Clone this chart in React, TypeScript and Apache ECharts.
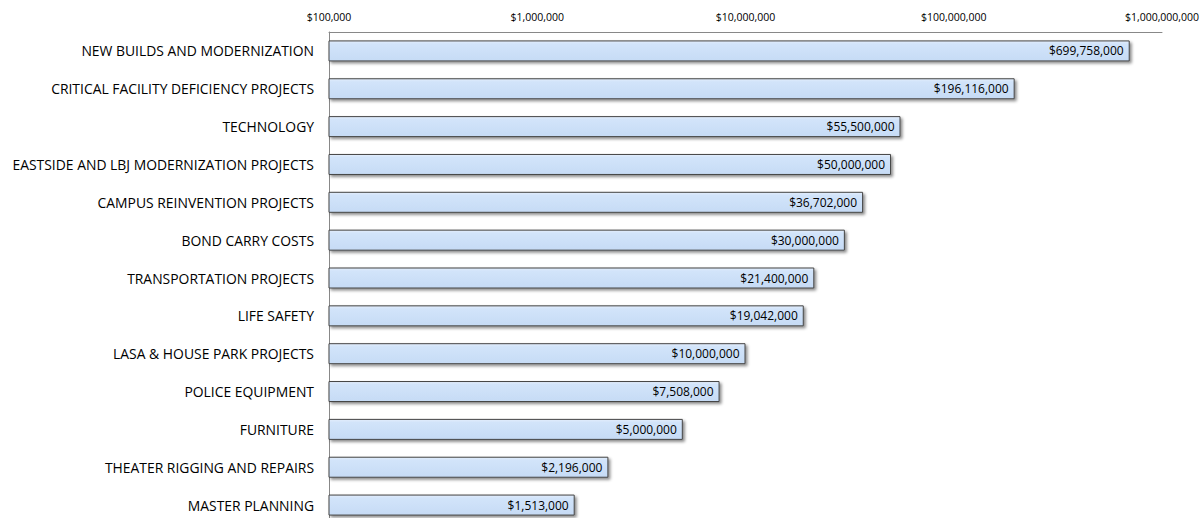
import React, { useEffect, useRef } from "react";
import * as echarts from "echarts";

const categories = [
  "NEW BUILDS AND MODERNIZATION",
  "CRITICAL FACILITY DEFICIENCY PROJECTS",
  "TECHNOLOGY",
  "EASTSIDE AND LBJ MODERNIZATION PROJECTS",
  "CAMPUS REINVENTION PROJECTS",
  "BOND CARRY COSTS",
  "TRANSPORTATION PROJECTS",
  "LIFE SAFETY",
  "LASA & HOUSE PARK PROJECTS",
  "POLICE EQUIPMENT",
  "FURNITURE",
  "THEATER RIGGING AND REPAIRS",
  "MASTER PLANNING",
];

const values = [
  699758000, 196116000, 55500000, 50000000, 36702000, 30000000, 21400000,
  19042000, 10000000, 7508000, 5000000, 2196000, 1513000,
];

const axisMin = 100000;
const axisMax = 1000000000;

const fmt = (v: number) => "$" + Math.round(v).toLocaleString("en-US");

export default function App() {
  const ref = useRef<HTMLDivElement>(null);
  useEffect(() => {
    if (!ref.current) return;
    const chart = echarts.init(ref.current, null, { renderer: "svg" });
    chart.setOption({
      animation: false,
      backgroundColor: "#ffffff",
      grid: { left: 329, right: 42, top: 32, height: 492, containLabel: false },
      xAxis: {
        type: "log",
        logBase: 10,
        min: axisMin,
        max: axisMax,
        position: "top",
        axisLine: { show: true, lineStyle: { color: "#888888", width: 1 } },
        axisTick: { show: false },
        splitLine: { show: false },
        axisLabel: {
          formatter: (v: number) => fmt(v),
          fontSize: 10.5,
          color: "#000000",
          fontFamily: "Open Sans",
          margin: 10,
        },
      },
      yAxis: {
        type: "category",
        data: categories,
        inverse: true,
        axisLine: { show: true, lineStyle: { color: "#888888", width: 1 } },
        axisTick: { show: false },
        axisLabel: {
          fontSize: 13.9,
          color: "#000000",
          fontFamily: "Open Sans",
          margin: 15,
        },
      },
      series: [
        {
          type: "bar",
          data: values,
          barWidth: 21,
          itemStyle: {
            color: new echarts.graphic.LinearGradient(0, 0, 0, 1, [
              { offset: 0, color: "#e4eefc" },
              { offset: 0.15, color: "#d2e4fa" },
              { offset: 1, color: "#c6dbf5" },
            ]),
            borderColor: "#444444",
            borderWidth: 1,
            shadowColor: "rgba(0,0,0,0.45)",
            shadowBlur: 3,
            shadowOffsetX: 2,
            shadowOffsetY: 2,
          },
          label: {
            show: true,
            position: "insideRight",
            formatter: (p: any) => fmt(p.value),
            color: "#000000",
            fontSize: 12,
            fontFamily: "Open Sans",
            offset: [-1, 0],
          },
        },
      ],
    });
    return () => chart.dispose();
  }, []);
  return (
    <div
      ref={ref}
      style={{ position: "fixed", left: 0, top: 0, width: 1204, height: 540 }}
    />
  );
}
